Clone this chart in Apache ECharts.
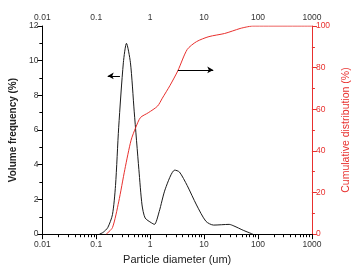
<!DOCTYPE html>
<html>
<head>
<meta charset="utf-8">
<script src="https://cdn.jsdelivr.net/npm/echarts@6/dist/echarts.min.js"></script>
<style>
html,body{margin:0;padding:0;background:#fff;}
#chart{width:360px;height:270px;}
</style>
</head>
<body>
<div id="chart"></div>
<script>
// volume frequency curve (black)
var freqSize = [0.115, 0.134, 0.163, 0.1995, 0.2276, 0.2606, 0.318, 0.363, 0.4305, 0.505, 0.617, 0.706, 0.806, 1.053, 1.2, 1.47, 1.91, 2.86, 3.49, 4.86, 7.24, 10.8, 15, 29.2, 35.7, 53.2, 74, 80];
var freqValue = [0, 0.1, 0.37, 1.12, 2.8, 6.16, 9.88, 11.0, 9.88, 7.09, 3.73, 1.68, 0.93, 0.65, 0.56, 1.3, 2.61, 3.69, 3.58, 2.8, 1.68, 0.74, 0.52, 0.56, 0.47, 0.22, 0.04, 0];
// cumulative distribution curve (red)
var cumSize = [0.153, 0.1995, 0.2606, 0.339, 0.442, 0.541, 0.66, 0.92, 1.37, 1.68, 2.34, 3.26, 4.86, 7.25, 12.3, 24, 46.5, 60.6, 80, 1000];
var cumValue = [0, 3.1, 15.5, 31.1, 45.1, 51.3, 56, 58.3, 61.5, 65.3, 71.5, 78.5, 88.7, 92.5, 94.9, 96.4, 98.8, 99.5, 100, 100];
// arrows: [from, to] in data units
var leftArrow = [[0.275, 9.12], [0.163, 9.12]];
var rightArrow = [[3.26, 78.9], [14.8, 78.9]];

var RED = '#e8302e';
var txt = '#333';

function pairs(xs, ys) {
	return xs.map(function (x, i) { return [x, ys[i]]; });
}

function logAxis(pos, inside) {
	return {
		type: 'log',
		logBase: 10,
		position: pos,
		min: 0.01,
		max: 1000,
		axisLine: { show: true, lineStyle: { color: '#000', width: 1 } },
		axisTick: { show: true, inside: inside, length: 5, lineStyle: { color: '#000', width: 1 } },
		minorTick: { show: true, splitNumber: 9, length: 3, lineStyle: { color: '#000', width: 1 } },
		axisLabel: {
			fontSize: 8.5,
			color: txt,
			fontFamily: 'Liberation Sans',
			margin: inside ? 4 : 6,
			formatter: function (v) { return String(+v.toPrecision(3)); }
		},
		splitLine: { show: false }
	};
}

var bottomAxis = logAxis('bottom', false);
bottomAxis.name = 'Particle diameter (um)';
bottomAxis.nameLocation = 'middle';
bottomAxis.nameGap = 19;
bottomAxis.nameTextStyle = { fontSize: 11, color: '#222', fontFamily: 'Liberation Sans' };

var option = {
	animation: false,
	backgroundColor: '#fff',
	grid: { left: 35, right: 37, top: 26, bottom: 30 },
	xAxis: [bottomAxis, logAxis('top', true)],
	yAxis: [{
		type: 'value',
		position: 'left',
		min: 0,
		max: 12,
		interval: 2,
		name: 'Volume frequency (%)',
		nameLocation: 'middle',
		nameGap: 21,
		nameTextStyle: { fontSize: 10, fontWeight: 'bold', color: '#222', fontFamily: 'Liberation Sans' },
		axisLine: { show: true, lineStyle: { color: '#000', width: 1 } },
		axisTick: { show: true, length: 5, lineStyle: { color: '#000' } },
		minorTick: { show: true, splitNumber: 2, length: 3, lineStyle: { color: '#000' } },
		axisLabel: { fontSize: 8.5, color: txt, margin: 4, fontFamily: 'Liberation Sans' },
		splitLine: { show: false }
	}, {
		type: 'value',
		position: 'right',
		min: 0,
		max: 100,
		interval: 20,
		name: 'Cumulative distribution (%)',
		nameLocation: 'middle',
		nameRotate: 90,
		nameGap: 23,
		nameTextStyle: { fontSize: 10.5, color: RED, fontFamily: 'Liberation Sans' },
		axisLine: { show: true, lineStyle: { color: RED, width: 1 } },
		axisTick: { show: true, length: 5, lineStyle: { color: RED } },
		minorTick: { show: true, splitNumber: 2, length: 3, lineStyle: { color: RED } },
		axisLabel: { fontSize: 8.5, color: RED, margin: 4, fontFamily: 'Liberation Sans' },
		splitLine: { show: false }
	}],
	series: [{
		name: 'Volume frequency',
		type: 'line',
		xAxisIndex: 0,
		yAxisIndex: 0,
		data: pairs(freqSize, freqValue),
		smooth: 0.25,
		showSymbol: false,
		lineStyle: { color: '#1a1a1a', width: 1 },
		markLine: {
			silent: true,
			symbol: ['none', 'arrow'],
			symbolSize: [5, 6],
			label: { show: false },
			lineStyle: { color: '#000', width: 1, type: 'solid' },
			data: [[{ coord: leftArrow[0] }, { coord: leftArrow[1] }]]
		}
	}, {
		name: 'Cumulative distribution',
		type: 'line',
		xAxisIndex: 0,
		yAxisIndex: 1,
		data: pairs(cumSize, cumValue),
		smooth: 0.25,
		showSymbol: false,
		lineStyle: { color: RED, width: 1 },
		markLine: {
			silent: true,
			symbol: ['none', 'arrow'],
			symbolSize: [5, 6],
			label: { show: false },
			lineStyle: { color: '#000', width: 1, type: 'solid' },
			data: [[{ coord: rightArrow[0] }, { coord: rightArrow[1] }]]
		}
	}]
};

var myChart = echarts.init(document.getElementById('chart'));
myChart.setOption(option);
</script>
</body>
</html>
